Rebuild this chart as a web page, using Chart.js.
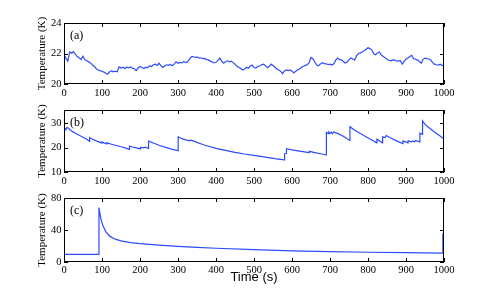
<!DOCTYPE html>
<html><head><meta charset="utf-8">
<script src="https://cdn.jsdelivr.net/npm/chart.js@4"></script>
<style>
html,body{margin:0;padding:0;background:#fff;width:491px;height:294px;overflow:hidden;}
canvas{position:absolute;left:0;}
</style></head><body>
<canvas id="ca" style="top:0px" width="491" height="100"></canvas>
<canvas id="cb" style="top:95px" width="491" height="100"></canvas>
<canvas id="cc" style="top:185px" width="491" height="109"></canvas>
<script>
// ---------- data ----------
const xTicks = [0,100,200,300,400,500,600,700,800,900,1000];
const yTicksA = [20,22,24];
const yTicksB = [10,20,30];
const yTicksC = [0,40,80];
const panelLabels = ['(a)','(b)','(c)'];

// (a) sampled every 5 s from 0 to 1000
const vA = [21.90,21.70,21.50,22.10,22.02,22.12,21.95,21.80,21.70,21.62,21.82,21.58,21.52,21.45,21.38,21.25,21.15,21.00,20.92,20.88,
20.84,20.78,20.70,20.64,20.80,20.86,20.80,20.84,20.80,21.12,21.05,21.10,21.02,21.10,21.06,21.12,21.04,21.00,20.88,21.05,
21.15,21.08,21.02,21.10,21.06,21.20,21.14,21.26,21.30,21.22,21.36,21.20,21.08,21.18,21.26,21.22,21.28,21.20,21.30,21.46,
21.36,21.42,21.38,21.48,21.40,21.45,21.62,21.78,21.80,21.74,21.78,21.70,21.72,21.66,21.68,21.60,21.58,21.50,21.44,21.38,
21.42,21.55,21.70,21.50,21.36,21.46,21.52,21.46,21.50,21.40,21.30,21.16,21.10,21.02,20.92,20.98,21.10,21.04,21.18,21.24,
21.08,21.04,21.16,21.18,21.26,21.30,21.20,21.06,21.14,21.30,21.22,21.10,20.98,20.92,20.84,20.68,20.86,20.92,20.88,20.92,
20.84,20.72,20.84,20.94,20.98,21.10,21.16,21.22,21.26,21.40,21.74,21.66,21.44,21.24,21.20,21.32,21.40,21.34,21.32,21.28,
21.30,21.24,21.32,21.56,21.70,21.60,21.58,21.48,21.38,21.44,21.60,21.70,21.64,21.56,21.86,22.00,22.04,22.12,22.18,22.28,
22.38,22.32,22.24,21.98,21.92,22.04,22.10,21.90,21.80,21.72,21.62,21.56,21.52,21.58,21.56,21.52,21.50,21.54,21.30,21.48,
21.62,21.70,21.80,21.88,21.66,21.62,21.58,21.48,21.36,21.62,21.70,21.66,21.64,21.58,21.40,21.30,21.26,21.24,21.30,21.22,
21.20];
const tA = vA.map((_, i) => i * 5);

// (b)
const tB = [0,3,5,8,11,15,20,25,30,40,50,60,67,
67.5,75,85,95,99,
99.5,105,112,
112.5,116,125,135,150,165,172,
172.5,180,190,200,
201,210,213,222,
222.5,235,250,270,285,300,
300.5,310,320,330,333,338,350,365,380,400,425,450,475,500,530,555,580,
580.5,585,
585.5,600,620,645,
645.5,660,675,690,
690.5,695,697,700,703,706,710,713,720,735,752,
752.5,765,780,795,810,823,
823.5,838,
838.5,845,848,860,875,892,
892.5,902,905,
905.5,914,917,922,925,936,
936.5,943,
943.5,950,960,970,985,1000];
const vB = [27.4,27.9,27.6,28.3,28.1,27.5,26.9,26.4,25.9,25.1,24.3,23.5,22.6,
24.2,23.5,22.8,22.2,21.9,
22.4,22.0,21.6,
22.0,21.9,21.4,21.0,20.4,19.7,19.3,
20.7,20.3,19.9,19.5,
20.1,20.0,20.2,19.7,
22.7,21.9,21.0,20.0,19.3,18.8,
24.5,23.7,23.2,22.8,23.1,22.9,22.2,21.3,20.6,19.7,18.9,18.1,17.4,16.8,16.1,15.5,15.0,
17.5,17.6,
19.6,19.1,18.6,18.0,
18.5,18.0,17.5,17.0,
26.3,25.8,26.5,25.9,26.4,25.8,26.5,26.2,25.9,24.7,23.0,
28.6,27.2,25.8,24.5,23.2,22.0,
23.5,22.0,
24.5,24.2,25.0,24.0,22.8,21.7,
22.8,22.2,21.9,
22.8,22.4,22.8,22.4,23.0,22.4,
26.0,25.5,
31.0,29.6,28.3,27.1,25.3,23.7];

// (c)
const tC = [0,91.5,92,94,97,102,110,121,135,150,175,200,250,300,350,400,500,600,700,800,900,996,997];
const vC = [9.5,9.5,68,62,54,46,38,32,28.5,26.5,24.3,23,21.2,19.6,18.3,17.2,15.4,14.0,13.0,12.2,11.6,11.1,36];

// ---------- drawing ----------
const LINE = '#2b4cff';
const SERIF = '"Liberation Serif","Times New Roman",serif';

const boxPlugin = {
  id: 'box',
  afterDatasetsDraw(chart, args, opts) {
    const {ctx, chartArea: a, scales: {x, y}} = chart;
    ctx.save();
    ctx.strokeStyle = '#000';
    ctx.lineWidth = 1;
    ctx.beginPath();
    const L = 4;
    x.ticks.forEach(t => {
      const px = Math.round(x.getPixelForValue(t.value)) + 0.5;
      ctx.moveTo(px, a.bottom); ctx.lineTo(px, a.bottom - L);
      ctx.moveTo(px, a.top); ctx.lineTo(px, a.top + L);
    });
    y.ticks.forEach(t => {
      const py = Math.round(y.getPixelForValue(t.value)) + 0.5;
      ctx.moveTo(a.left, py); ctx.lineTo(a.left + L, py);
      ctx.moveTo(a.right, py); ctx.lineTo(a.right - L, py);
    });
    ctx.stroke();
    ctx.strokeRect(a.left + 0.5, a.top + 0.5, a.width - 1, a.height - 1);
    ctx.fillStyle = '#000';
    ctx.font = '12px ' + SERIF;
    ctx.textBaseline = 'middle';
    ctx.textAlign = 'left';
    ctx.fillText(opts.label, a.left + 6, a.top + 12.5);
    ctx.restore();
  }
};

function makeChart(id, t, v, yMin, yMax, yTicks, label, padTop, xH, xPad, xTitle) {
  const pts = t.map((tt, i) => ({x: tt, y: v[i]}));
  return new Chart(document.getElementById(id), {
    type: 'line',
    data: {datasets: [{data: pts, borderColor: LINE, borderWidth: 1.2, pointRadius: 0, tension: 0, fill: false}]},
    plugins: [boxPlugin],
    options: {
      responsive: false, animation: false, events: [],
      layout: {padding: {top: padTop, left: 0, right: 47, bottom: 0}},
      plugins: {legend: {display: false}, tooltip: {enabled: false}, box: {label: label}},
      scales: {
        x: {
          type: 'linear', min: 0, max: 1000,
          afterBuildTicks: s => { s.ticks = xTicks.map(val => ({value: val})); },
          afterFit: s => { s.height = xH; },
          grid: {display: false, drawTicks: false},
          border: {display: false},
          ticks: {color: '#000', font: {family: SERIF, size: 10.5}, padding: xPad, maxRotation: 0, autoSkip: false, callback: val => String(val)},
          title: xTitle ? {display: true, text: xTitle, color: '#000', font: {family: '"Liberation Sans",Arial,sans-serif', size: 13}, padding: {top: 0, bottom: 9}} : {display: false}
        },
        y: {
          type: 'linear', min: yMin, max: yMax,
          afterBuildTicks: s => { s.ticks = yTicks.map(val => ({value: val})); },
          afterFit: s => { s.width = 64; },
          grid: {display: false, drawTicks: false},
          border: {display: false},
          ticks: {color: '#000', font: {family: SERIF, size: 10.5}, padding: 2.5, callback: val => String(val)},
          title: {display: true, text: 'Temperature (K)', color: '#000', font: {family: SERIF, size: 11}, padding: {top: 36, bottom: 0}}
        }
      }
    }
  });
}

makeChart('ca', tA, vA, 20, 24, yTicksA, panelLabels[0], 23, 16, 2.5, null);
makeChart('cb', tB, vB, 10, 35.5, yTicksB, panelLabels[1], 15, 23, 2.5, null);
makeChart('cc', tC, vC, 0, 80, yTicksC, panelLabels[2], 13, 32, 1.5, 'Time (s)');
</script>
</body></html>
